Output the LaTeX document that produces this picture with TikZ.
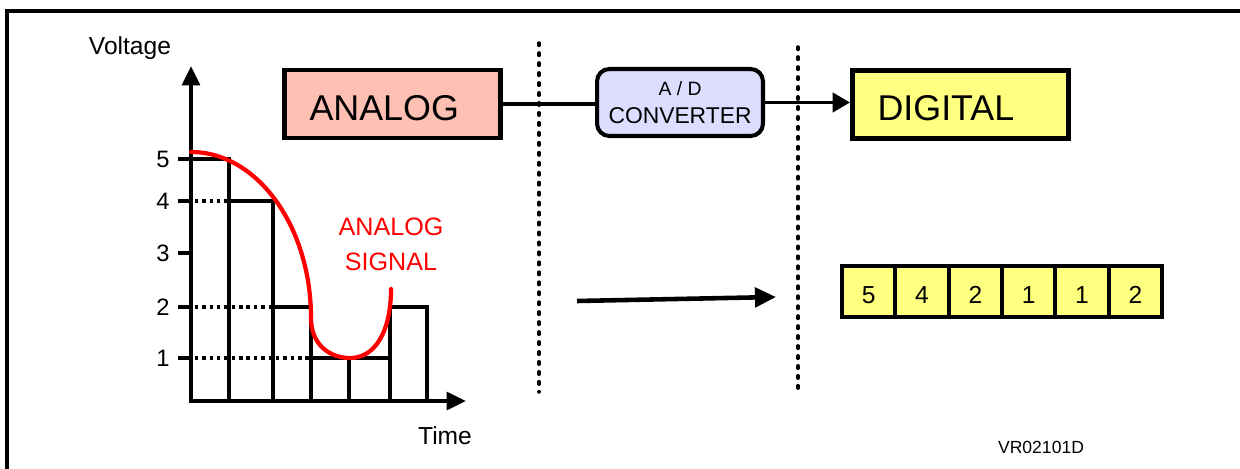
\documentclass[tikz,border=0pt]{standalone}
\usepackage{fontspec}
\setmainfont{Liberation Sans}
\usetikzlibrary{arrows.meta}
\definecolor{analogfill}{RGB}{255,192,180}
\definecolor{digfill}{RGB}{255,255,128}
\definecolor{convfill}{RGB}{221,221,255}
\begin{document}
\begin{tikzpicture}[x=0.02cm,y=-0.02cm,
  line join=miter,
  axislbl/.style={font=\fontsize{14}{16}\selectfont, inner sep=0pt},
  ticklbl/.style={font=\fontsize{13.5}{15}\selectfont, inner sep=0pt},
  chartline/.style={line width=2.3pt},
  griddot/.style={line width=2.3pt, dash pattern=on 2pt off 2.2pt},
  sepline/.style={line width=2pt, dash pattern=on 1.4pt off 4.27pt, line cap=round},
  bigbox/.style={draw, line width=2.8pt, minimum width=4.32cm, minimum height=1.36cm,
     inner xsep=0.5cm, text width=3.32cm, text height=18.6pt, text depth=0pt,
     align=left, font=\fontsize{20.4}{24}\selectfont},
  convbox/.style={draw, line width=2.3pt, rounded corners=7pt, fill=convfill,
     minimum width=3.32cm, minimum height=1.34cm, align=center, inner sep=0pt,
     font=\fontsize{13}{16}\selectfont},
  cellbox/.style={draw, line width=2.4pt, fill=digfill, minimum width=1.0667cm,
     minimum height=1.02cm, inner sep=0pt, text height=14pt, text depth=0pt,
     font=\fontsize{14}{16}\selectfont},
  flow/.style={line width=2.2pt},
  tip/.style={-{Triangle[length=10pt,width=11pt]}}
]
\useasboundingbox (0,0) rectangle (1240,469);
% frame
\draw[line width=1.9pt] (7,480) -- (7,11) -- (1240,11);

% chart axes
\node[axislbl] (volt) at (130,48) {Voltage};
\node[axislbl] (time) at (445,436) {Time};
\coordinate (ytop) at (191,66);
\coordinate (xend) at (466,401);
\draw[chartline,-{Triangle[length=11pt,width=10pt]}] (191,403) -- (ytop);
\draw[chartline,-{Triangle[length=11pt,width=10pt]}] (189.5,401) -- (xend);

% ticks and labels
\foreach \v/\yy in {5/159,4/201,3/253,2/307,1/358}{
  \draw[chartline] (178,\yy) -- (191,\yy);
  \node[ticklbl] at (163,\yy) {\v};
}
% bars
\draw[chartline] (191,159) -- (229,159) -- (229,401);
\draw[griddot] (180,201) -- (229,201);
\draw[chartline] (229,201) -- (273,201) -- (273,401);
\draw[griddot] (180,307) -- (273,307);
\draw[chartline] (273,307) -- (311,307) -- (311,401);
\draw[griddot] (180,358) -- (311,358);
\draw[chartline] (311,358) -- (390,358);
\draw[chartline] (349,358) -- (349,401);
\draw[chartline] (390,401) -- (390,307) -- (427,307) -- (427,401);

% analog signal curve
\draw[red, line width=2.4pt, line cap=round]
  (191,152) .. controls (257,152) and (311,226) .. (311,318)
  .. controls (311,345) and (330,358) .. (350,358)
  .. controls (376,358) and (391,330) .. (391,289);
\node[red, align=center, inner sep=0pt, font=\fontsize{14.3}{19.8}\selectfont] (sig) at (391,244) {ANALOG\\SIGNAL};

% separators
\draw[sepline] (539,43) -- (539,392);
\draw[sepline] (798,47) -- (798,392);

% top flow
\node[bigbox, fill=analogfill] (analog) at (392.5,104) {ANALOG};
\node[convbox] (conv) at (680,102.5) {{\fontsize{11}{13}\selectfont A / D}\\CONVERTER};
\node[bigbox, fill=digfill] (dig) at (960.5,104.5) {DIGITAL};
\draw[flow] (analog.east) -- (analog.east -| conv.west);
\draw[flow,tip] (conv.east) -- (conv.east -| dig.west);

% lower arrow
\coordinate (la) at (577,301);
\coordinate (lb) at (776,297);
\draw[line width=2.6pt,-{Triangle[length=12pt,width=11pt]}] (la) -- (lb);

% digital cells
\foreach \d [count=\i] in {5,4,2,1,1,2}{
  \node[cellbox] (c\i) at ({842+53.333*(\i-0.5)},291.5) {\d};
}

\node[font=\fontsize{10}{12}\selectfont, inner sep=0pt] (ref) at (1041,447) {VR02101D};
\end{tikzpicture}
\end{document}
